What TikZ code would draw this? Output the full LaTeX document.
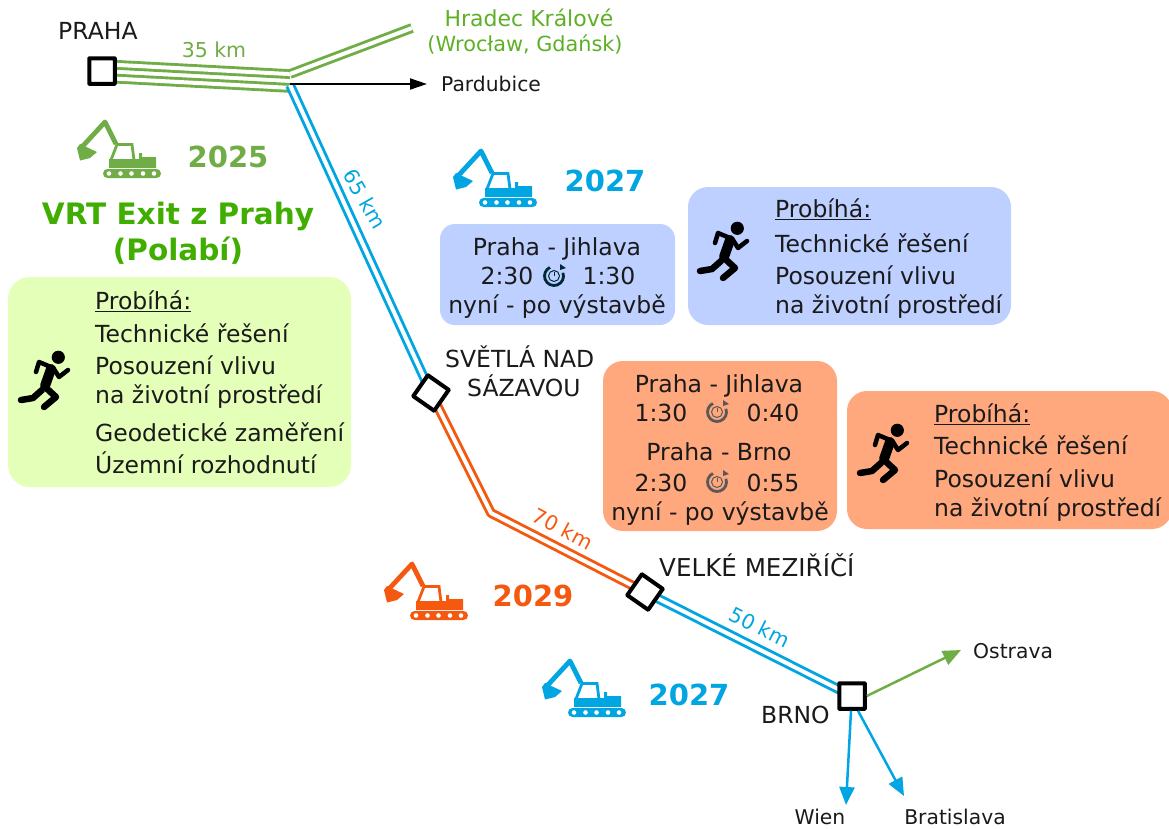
\documentclass[tikz,border=0pt]{standalone}
\usepackage{fontspec}
\setmainfont{DejaVu Sans}
\usetikzlibrary{backgrounds,arrows.meta}
\definecolor{cgreen}{HTML}{70AD47}
\definecolor{cblue}{HTML}{00A5E2}
\definecolor{corange}{HTML}{F4590F}
\definecolor{ctitle}{HTML}{3FAE00}
\definecolor{clabel}{HTML}{5DB025}
\definecolor{bgreen}{HTML}{E4FFB8}
\definecolor{bblue}{HTML}{BDD0FF}
\definecolor{borange}{HTML}{FFA77D}
\definecolor{ctext}{HTML}{1A1A1A}
\tikzset{
  x=1pt,y=-1pt,
  station/.style={draw=black,line width=4pt,fill=white,minimum size=25.5pt,inner sep=0pt,rounded corners=0.5pt},
  txt/.style={anchor=base west,inner sep=0pt,text=ctext,font=\fontsize{23.5}{23.5}\selectfont},
  ctr/.style={anchor=base,inner sep=0pt,text=ctext,font=\fontsize{23.5}{23.5}\selectfont},
  small/.style={font=\fontsize{20.3}{20.3}\selectfont},
  dist/.style={anchor=center,inner sep=0pt,text=#1,font=\fontsize{20.5}{20.5}\selectfont},
  year/.style={anchor=base,inner sep=0pt,text=#1,font=\bfseries\fontsize{29}{29}\selectfont},
  rail/.style={draw=#1,line width=2.9pt,double=white,double distance=4pt},
  arr/.style={draw=#1,line width=2.5pt,-{Triangle[length=18pt,width=15pt]}},
  panel/.style={fill=#1,draw=none,rounded corners=20pt},
  digger/.pic={
    \draw[#1,line width=4.8pt,line join=round] (4,30)--(28,4)--(39,26);
    \fill[#1] (0,30)--(3,26)--(20,34)--(13,40)--(3,42.5)--cycle;
    \draw[#1,line width=2.8pt] (34,42)--(40,26.5)--(55,26.5)--(57,42);
    \fill[#1] (32,41)--(62,41)--(62,35)--(65,35)--(65,39)--(79,39)--(79,50)--(32,50)--cycle;
    \fill[#1,rounded corners=4.5pt] (26,51) rectangle (84,60);
    \foreach \dx in {32,43.5,54.5,66,77}{\fill[white] (\dx,55.5) circle (2.3);}
  },
  runner/.pic={
    \fill[black] (58.3,17.3) circle (6.6);
    \draw[line width=10pt,line cap=round] (51,29)--(45,46);
    \draw[line width=4.5pt,line cap=round,line join=round] (51,27)--(39,22)--(36,32);
    \draw[line width=4.5pt,line cap=round,line join=round] (54,29)--(59,37)--(68,30);
    \draw[line width=6.5pt,line cap=round,line join=round] (44,46)--(56,57)--(44,67);
    \draw[line width=6.5pt,line cap=round,line join=round] (42,50)--(33,58)--(21,60);
  },
  stopclock/.pic={
    \draw[line width=2.8pt,draw=#1] (-20:9.5) arc[start angle=-20,end angle=245,radius=9.5];
    \draw[line width=1pt,draw=#1] (0,0) circle (5.5);
    \draw[line width=1pt,draw=#1] (0,0)--(0,-4);
    \fill[#1] (6,-12)--(12,-8)--(6,-6)--cycle;
  },
}
\begin{document}
\begin{tikzpicture}
\useasboundingbox (0,0) rectangle (1169,828);

% panels
\fill[panel=bgreen,rounded corners=22pt] (8,277) rectangle (351,487);
\fill[panel=bblue,rounded corners=15pt] (440,224) rectangle (675,325);
\fill[panel=bblue] (688,187) rectangle (1011,325);
\fill[panel=borange] (603,361) rectangle (837,531);
\fill[panel=borange] (847,391) rectangle (1172,529);

% stations
\node[station] (praha) at (102,71) {};
\node[station,rotate=-35] (svetla) at (431,393) {};
\node[station,rotate=-35] (mezi) at (645,592) {};
\node[station] (brno) at (852,696) {};
\coordinate (jct) at (290,81);
\coordinate (hk) at (412,28);
\coordinate (bend) at (491,513);
\coordinate (pard) at (427,84);
\coordinate (ostr) at (961,650);
\coordinate (wien) at (846,805);
\coordinate (bra) at (904,796);

\begin{scope}[on background layer]
  \draw[rail=cgreen] ([yshift=6.9pt]praha.center)--([yshift=6.9pt]jct);
  \draw[rail=cgreen] ([yshift=-6.9pt]praha.center)--([yshift=-6.9pt]jct);
  \draw[rail=cgreen] ([yshift=7pt]jct)--(hk);
  \draw[rail=cblue] ([yshift=-4pt]jct)--(svetla.center);
  \draw[rail=corange,line join=round] (svetla.center)--(bend)--(mezi.center);
  \draw[rail=cblue] (mezi.center)--(brno.center);
\end{scope}
\draw[black,line width=2pt,-{Triangle[length=17pt,width=11pt]}] ([yshift=-3pt]jct)--(pard);
\draw[arr=cgreen] (brno.east)--(ostr);
\draw[arr=cblue] ([xshift=-1pt]brno.south)--(wien);
\draw[arr=cblue] ([xshift=6pt]brno.south)--(bra);

% excavators
\pic at (77,118) {digger=cgreen};
\pic at (453,147) {digger=cblue};
\pic at (384,560) {digger=corange};
\pic at (542,657) {digger=cblue};

% runners
\pic at (0,340) {runner};
\pic at (679,211) {runner};
\pic at (839,413) {runner};

% stopwatches
\pic at (554,276) {stopclock=black!75!cblue};
\pic at (717,412) {stopclock=black!65};
\pic at (717,482) {stopclock=black!65};

% place labels
\node[txt] (lpraha) at (58,39) {PRAHA};
\node[txt] (lsv1) at (445,367) {SVĚTLÁ NAD};
\node[txt] (lsv2) at (467,396) {SÁZAVOU};
\node[txt,font=\fontsize{24.6}{24.6}\selectfont] (lvm) at (659,576) {VELKÉ MEZIŘÍČÍ};
\node[txt] (lbrno) at (761,723) {BRNO};
\node[txt,small] (lpard) at (441,91) {Pardubice};
\node[txt,small] (lostr) at (973,658) {Ostrava};
\node[ctr,small] (lwien) at (820,824) {Wien};
\node[ctr,small] (lbra) at (955,824) {Bratislava};
\node[ctr,text=clabel,font=\fontsize{22}{22}\selectfont] (lhk1) at (529,26) {Hradec Králové};
\node[ctr,text=clabel,font=\fontsize{20.8}{20.8}\selectfont] (lhk2) at (525,51) {(Wrocław, Gdańsk)};

% distances
\node[dist=cgreen] (d35) at (214,50) {35 km};
\node[dist=cblue,rotate=-60] (d65) at (365,199) {65 km};
\node[dist=corange,rotate=-28] (d70) at (563,529) {70 km};
\node[dist=cblue,rotate=-27] (d50) at (760,627) {50 km};

% years
\node[year=cgreen] (y25) at (228,167) {2025};
\node[year=cblue] (y27a) at (605,191) {2027};
\node[year=corange] (y29) at (533,606) {2029};
\node[year=cblue] (y27b) at (689,705) {2027};

% title
\node[ctr,text=ctitle,font=\bfseries\fontsize{29.5}{29.5}\selectfont] (t1) at (178,224) {VRT Exit z Prahy};
\node[ctr,text=ctitle,font=\bfseries\fontsize{29.5}{29.5}\selectfont] (t2) at (178,260) {(Polabí)};

% green panel
\node[txt] (g0) at (95,309) {\underline{Probíhá:}};
\node[txt] (g1) at (95,342) {Technické řešení};
\node[txt] (g2) at (95,374) {Posouzení vlivu};
\node[txt] (g3) at (95,403) {na životní prostředí};
\node[txt] (g4) at (95,441) {Geodetické zaměření};
\node[txt] (g5) at (95,473) {Územní rozhodnutí};

% blue panels
\node[ctr] (b1) at (557,255) {Praha - Jihlava};
\node[ctr] (b2a) at (507,284) {2:30};
\node[ctr] (b2b) at (609,284) {1:30};
\node[ctr] (b3) at (557,313) {nyní - po výstavbě};
\node[txt] (c0) at (775,217) {\underline{Probíhá:}};
\node[txt] (c1) at (775,252) {Technické řešení};
\node[txt] (c2) at (775,284) {Posouzení vlivu};
\node[txt] (c3) at (775,313) {na životní prostředí};

% orange panels
\node[ctr] (o1) at (719,392) {Praha - Jihlava};
\node[ctr] (o2a) at (661,421) {1:30};
\node[ctr] (o2b) at (773,421) {0:40};
\node[ctr] (o3) at (719,460) {Praha - Brno};
\node[ctr] (o4a) at (661,491) {2:30};
\node[ctr] (o4b) at (773,491) {0:55};
\node[ctr] (o5) at (720,520) {nyní - po výstavbě};
\node[txt] (e0) at (934,422) {\underline{Probíhá:}};
\node[txt] (e1) at (934,454) {Technické řešení};
\node[txt] (e2) at (934,487) {Posouzení vlivu};
\node[txt] (e3) at (934,516) {na životní prostředí};
\end{tikzpicture}
\end{document}
